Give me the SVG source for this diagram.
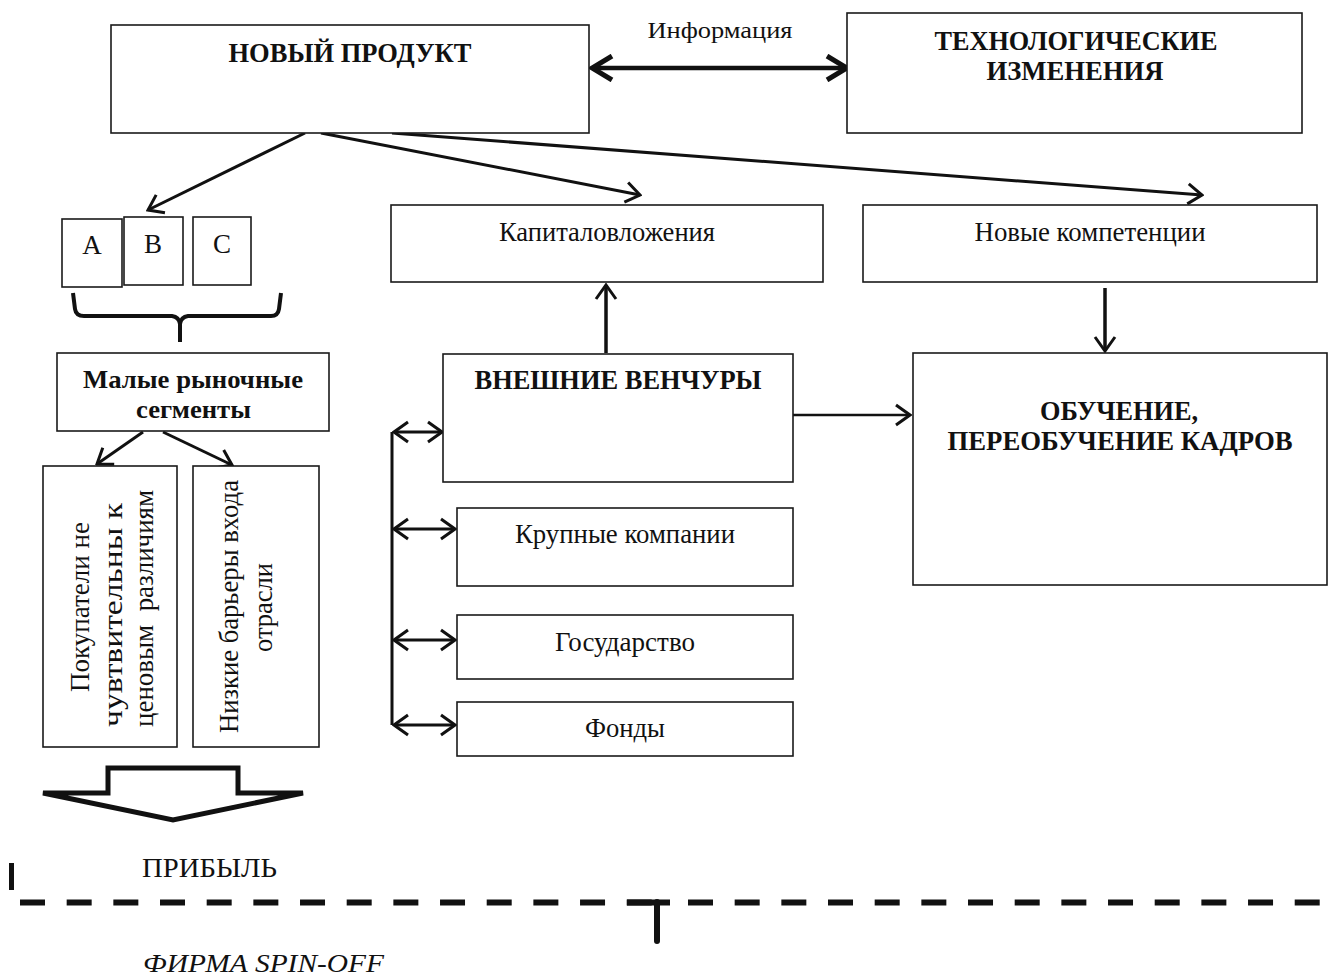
<svg xmlns="http://www.w3.org/2000/svg" width="1335" height="979" viewBox="0 0 1335 979">
<style>
.box{fill:#fff;stroke:#1a1a1a;stroke-width:1.6}
.t{font-family:"Liberation Serif","Times New Roman",serif;font-size:27px;fill:#111;text-anchor:middle;white-space:pre}
.b{font-weight:bold}
.ln{stroke:#111;stroke-width:3;fill:none}
.dash{stroke:#111;stroke-width:6;stroke-dasharray:25 21.67;fill:none}
</style>
<defs>
<marker id="ah" viewBox="0 0 18 24" refX="16" refY="12" markerWidth="18" markerHeight="24" markerUnits="userSpaceOnUse" orient="auto-start-reverse">
<path d="M2,2 L16,12 L2,22" fill="none" stroke="#111" stroke-width="3" stroke-linejoin="miter"/>
</marker>
<marker id="ahb" viewBox="0 0 26 28" refX="23" refY="14" markerWidth="26" markerHeight="28" markerUnits="userSpaceOnUse" orient="auto-start-reverse">
<path d="M3,2 L23,14 L3,26" fill="none" stroke="#111" stroke-width="5" stroke-linejoin="miter"/>
</marker>
</defs>
<rect width="1335" height="979" fill="#fff"/>

<g id="connectors">
<line class="ln" x1="305" y1="133" x2="148" y2="210" marker-end="url(#ah)"/>
<line class="ln" x1="321" y1="133" x2="640" y2="195" marker-end="url(#ah)"/>
<line class="ln" x1="392" y1="133" x2="1202" y2="195" marker-end="url(#ah)"/>
<line class="ln" x1="592" y1="68" x2="847" y2="68" style="stroke-width:4.5" marker-start="url(#ahb)" marker-end="url(#ahb)"/>
<line class="ln" x1="606" y1="353" x2="606" y2="285" style="stroke-width:3.5" marker-end="url(#ah)"/>
<line class="ln" x1="1105" y1="288" x2="1105" y2="351" style="stroke-width:3.5" marker-end="url(#ah)"/>
<line class="ln" x1="793" y1="415" x2="910" y2="415" style="stroke-width:2.5" marker-end="url(#ah)"/>
<line class="ln" x1="143" y1="432" x2="97" y2="464" marker-end="url(#ah)"/>
<line class="ln" x1="163" y1="432" x2="232" y2="465" marker-end="url(#ah)"/>
<line class="ln" x1="392" y1="432" x2="392" y2="725"/>
<line class="ln" x1="394" y1="432" x2="442" y2="432" marker-start="url(#ah)" marker-end="url(#ah)"/>
<line class="ln" x1="394" y1="529" x2="455" y2="529" marker-start="url(#ah)" marker-end="url(#ah)"/>
<line class="ln" x1="394" y1="640" x2="455" y2="640" marker-start="url(#ah)" marker-end="url(#ah)"/>
<line class="ln" x1="394" y1="725" x2="455" y2="725" marker-start="url(#ah)" marker-end="url(#ah)"/>
<path class="ln" d="M73,293 L75,309 Q76,316 84,316 L172,316 Q179,317 180,324 L180,342 M180,324 Q181,317 188,316 L271,316 Q278,316 279,309 L281,293" style="stroke-width:4"/>
</g>

<g id="new-product">
<rect class="box" x="111" y="25" width="478" height="108"/>
<text class="t b" x="350" y="62" textLength="243" lengthAdjust="spacingAndGlyphs">НОВЫЙ ПРОДУКТ</text>
</g>
<g id="info-label">
<text class="t" x="720" y="38" style="font-size:24px" textLength="145" lengthAdjust="spacingAndGlyphs">Информация</text>
</g>
<g id="tech-changes">
<rect class="box" x="847" y="13" width="455" height="120"/>
<text class="t b" x="1076" y="50" textLength="283" lengthAdjust="spacingAndGlyphs">ТЕХНОЛОГИЧЕСКИЕ</text>
<text class="t b" x="1075" y="80" textLength="177" lengthAdjust="spacingAndGlyphs">ИЗМЕНЕНИЯ</text>
</g>
<g id="seg-a">
<rect class="box" x="62" y="219" width="60" height="68"/>
<text class="t" x="92" y="254">A</text>
</g>
<g id="seg-b">
<rect class="box" x="124" y="217" width="59" height="68"/>
<text class="t" x="153" y="253">B</text>
</g>
<g id="seg-c">
<rect class="box" x="193" y="217" width="58" height="68"/>
<text class="t" x="222" y="253">C</text>
</g>
<g id="investments">
<rect class="box" x="391" y="205" width="432" height="77"/>
<text class="t" x="607" y="241" textLength="216" lengthAdjust="spacingAndGlyphs">Капиталовложения</text>
</g>
<g id="new-competencies">
<rect class="box" x="863" y="205" width="454" height="77"/>
<text class="t" x="1090" y="241" textLength="231" lengthAdjust="spacingAndGlyphs">Новые компетенции</text>
</g>
<g id="small-segments">
<rect class="box" x="57" y="353" width="272" height="78"/>
<text class="t b" x="193" y="388" style="font-size:26px" textLength="220" lengthAdjust="spacingAndGlyphs">Малые рыночные</text>
<text class="t b" x="193.5" y="418" style="font-size:26px" textLength="115" lengthAdjust="spacingAndGlyphs">сегменты</text>
</g>
<g id="buyers">
<rect class="box" x="43" y="466" width="134" height="281"/>
<text class="t" transform="translate(89,607) rotate(-90)" x="0" y="0" textLength="170" lengthAdjust="spacingAndGlyphs">Покупатели не</text>
<text class="t" transform="translate(122,615) rotate(-90)" x="0" y="0" textLength="224" lengthAdjust="spacingAndGlyphs">чувтвительны к</text>
<text class="t" transform="translate(153,608.5) rotate(-90)" x="0" y="0" textLength="237" lengthAdjust="spacingAndGlyphs">ценовым  различиям</text>
</g>
<g id="low-barriers">
<rect class="box" x="193" y="466" width="126" height="281"/>
<text class="t" transform="translate(238,606.5) rotate(-90)" x="0" y="0" textLength="253" lengthAdjust="spacingAndGlyphs">Низкие барьеры входа</text>
<text class="t" transform="translate(272,607.5) rotate(-90)" x="0" y="0" textLength="89" lengthAdjust="spacingAndGlyphs">отрасли</text>
</g>
<g id="external-ventures">
<rect class="box" x="443" y="354" width="350" height="128"/>
<text class="t b" x="618" y="389" textLength="287" lengthAdjust="spacingAndGlyphs">ВНЕШНИЕ ВЕНЧУРЫ</text>
</g>
<g id="training">
<rect class="box" x="913" y="353" width="414" height="232"/>
<text class="t b" x="1119" y="420" textLength="158" lengthAdjust="spacingAndGlyphs">ОБУЧЕНИЕ,</text>
<text class="t b" x="1120" y="450" textLength="345" lengthAdjust="spacingAndGlyphs">ПЕРЕОБУЧЕНИЕ КАДРОВ</text>
</g>
<g id="large-companies">
<rect class="box" x="457" y="508" width="336" height="78"/>
<text class="t" x="625" y="543" textLength="220" lengthAdjust="spacingAndGlyphs">Крупные компании</text>
</g>
<g id="state">
<rect class="box" x="457" y="615" width="336" height="64"/>
<text class="t" x="625" y="651" textLength="140" lengthAdjust="spacingAndGlyphs">Государство</text>
</g>
<g id="funds">
<rect class="box" x="457" y="702" width="336" height="54"/>
<text class="t" x="625" y="737" textLength="80" lengthAdjust="spacingAndGlyphs">Фонды</text>
</g>
<g id="profit">
<polygon points="108,768 238,768 238,793 303,793 173,820 43,793 108,793" fill="#fff" stroke="#111" stroke-width="5" stroke-linejoin="miter"/>
<text class="t" x="209.5" y="877" textLength="135" lengthAdjust="spacingAndGlyphs">ПРИБЫЛЬ</text>
</g>
<g id="boundary">
<rect x="9" y="863" width="5" height="27" fill="#111"/>
<line class="dash" x1="20" y1="902.5" x2="653" y2="902.5"/>
<line x1="627" y1="902.5" x2="670" y2="902.5" stroke="#111" stroke-width="6"/>
<line x1="657" y1="902" x2="657" y2="941" stroke="#111" stroke-width="6" stroke-linecap="round"/>
<line class="dash" x1="688" y1="902.5" x2="1322" y2="902.5"/>
</g>
<g id="spin-off">
<text class="t" x="143" y="972" style="text-anchor:start;font-style:italic;font-size:26px" textLength="241" lengthAdjust="spacingAndGlyphs">ФИРМА SPIN-OFF</text>
</g>
</svg>
